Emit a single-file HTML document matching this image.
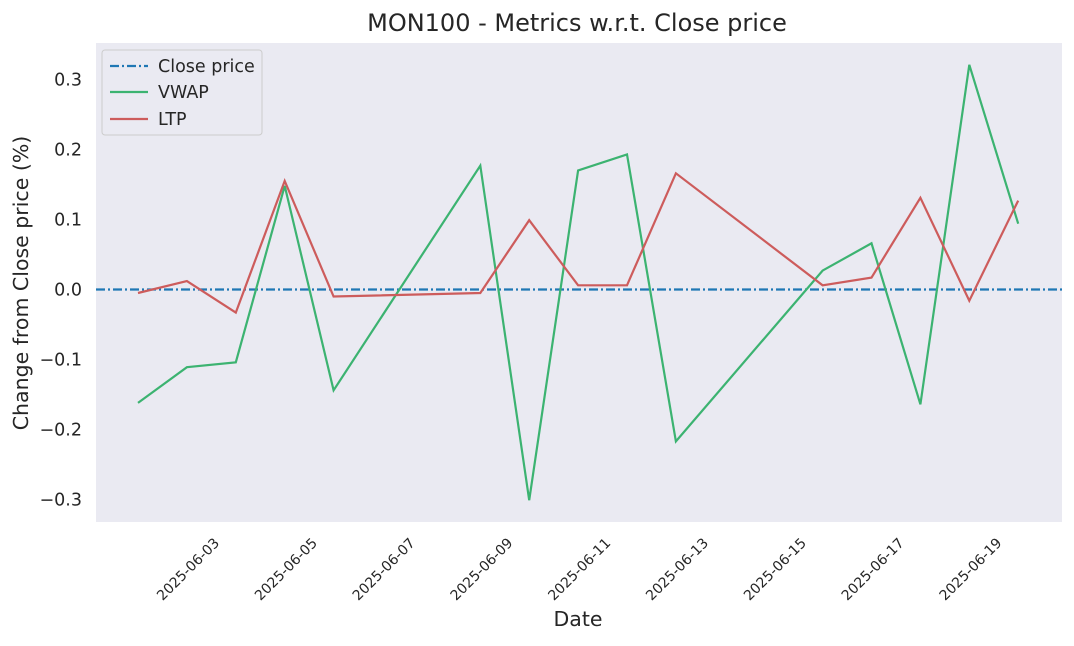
<!DOCTYPE html>
<html><head><meta charset="utf-8"><style>
body{margin:0;background:#fff;}
svg text{font-family:"DejaVu Sans","Liberation Sans",sans-serif;fill:#262626;}
</style></head><body>
<svg id="chart" width="1074" height="641">
<rect x="96" y="43" width="966" height="479" fill="#eaeaf2"/>
<text x="577" y="31" font-size="24" text-anchor="middle">MON100 - Metrics w.r.t. Close price</text>
<text x="578" y="626" font-size="20.5" text-anchor="middle">Date</text>
<text transform="translate(28,283) rotate(-90)" font-size="20.5" text-anchor="middle">Change from Close price (%)</text>
<g id="yt"></g><g id="xt"></g><g id="lines"></g>
<g>
<rect x="102" y="50" width="160" height="85" rx="3" fill="#eaeaf2" stroke="#cccccc"/>
<line x1="110" y1="66" x2="148" y2="66" stroke="#1f77b4" stroke-width="2.2" stroke-dasharray="9,3,2,3"/>
<text x="158" y="72" font-size="17.5">Close price</text>
<line x1="110" y1="92" x2="148" y2="92" stroke="#3cb371" stroke-width="2.2"/>
<text x="158" y="98" font-size="17.5">VWAP</text>
<line x1="110" y1="119" x2="148" y2="119" stroke="#cd5c5c" stroke-width="2.2"/>
<text x="158" y="125" font-size="17.5">LTP</text>
</g>
</svg>
<script>
const dayOffsets=[0,1,2,3,4,7,8,9,10,11,14,15,16,17,18];
const vwap=[-0.162,-0.111,-0.104,0.148,-0.144,0.177,-0.301,0.170,0.193,-0.217,0.027,0.066,-0.164,0.321,0.094];
const ltp=[-0.005,0.012,-0.033,0.155,-0.010,-0.005,0.099,0.006,0.006,0.166,0.006,0.017,0.131,-0.016,0.127];
const yTicks=[-0.3,-0.2,-0.1,0.0,0.1,0.2,0.3];
const xTickDays=[1,3,5,7,9,11,13,15,17];
const xTickLabels=["2025-06-03","2025-06-05","2025-06-07","2025-06-09","2025-06-11","2025-06-13","2025-06-15","2025-06-17","2025-06-19"];
const NS="http://www.w3.org/2000/svg";
const X=d=>138+d*48.9;
const Y=v=>289.5-v*700;
const yt=document.getElementById('yt'),xt=document.getElementById('xt'),lg=document.getElementById('lines');
yTicks.forEach(v=>{const t=document.createElementNS(NS,'text');
t.setAttribute('x',82);t.setAttribute('y',Y(v)+6);t.setAttribute('font-size','17.5');t.setAttribute('text-anchor','end');
t.textContent=v.toFixed(1).replace('-','\u2212');


yt.appendChild(t);});
xTickDays.forEach((d,i)=>{const t=document.createElementNS(NS,'text');
const cx=X(d)+1,cy=569;
t.setAttribute('transform',`translate(${cx},${cy}) rotate(-45)`);t.setAttribute('font-size','14');t.setAttribute('text-anchor','middle');t.setAttribute('dy','5');
t.textContent=xTickLabels[i];


xt.appendChild(t);});
const zl=document.createElementNS(NS,'line');
zl.setAttribute('x1',96);zl.setAttribute('x2',1062);zl.setAttribute('y1',Y(0));zl.setAttribute('y2',Y(0));
zl.setAttribute('stroke','#1f77b4');zl.setAttribute('stroke-width','2.2');zl.setAttribute('stroke-dasharray','9,3,2,3');


lg.appendChild(zl);
function line(vals,color,name){const p=document.createElementNS(NS,'polyline');
p.setAttribute('points',vals.map((v,i)=>X(dayOffsets[i])+','+Y(v)).join(' '));
p.setAttribute('fill','none');p.setAttribute('stroke',color);p.setAttribute('stroke-width','2.2');


lg.appendChild(p);}
line(vwap,'#3cb371','vwap-line');
line(ltp,'#cd5c5c','ltp-line');
</script>
</body></html>
